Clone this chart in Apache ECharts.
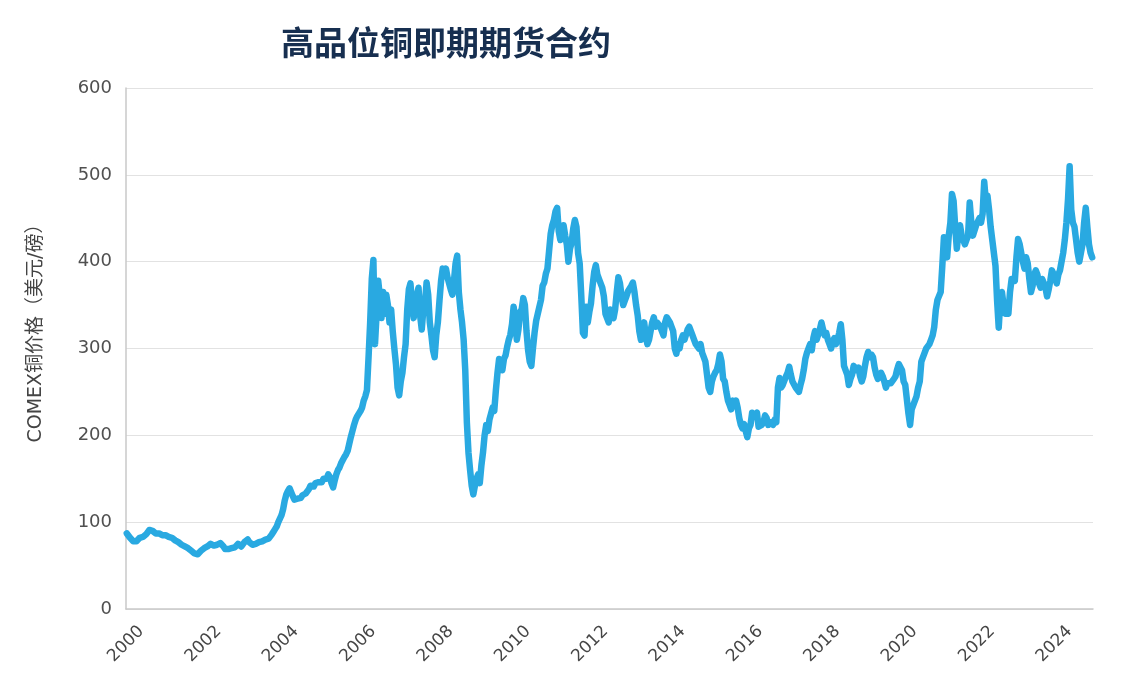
<!DOCTYPE html>
<html>
<head>
<meta charset="utf-8">
<script src="https://cdn.jsdelivr.net/npm/echarts@6/dist/echarts.min.js"></script>
<style>
html,body{margin:0;padding:0;background:#fff;}
#chart{width:1133px;height:699px;}
</style>
</head>
<body>
<div id="chart"></div>
<script>
// COMEX copper, US cents per pound, two readings per month
const p2000 = [87,85,82,80,78,79,78,80,82,81,83,84,86,88,91,93,90,88,87,86,87,86,85,86];
const p2001 = [85,84,83,82,82,80,79,78,77,76,74,73,72,71,70,68,67,66,64,62,63,65,67,68];
const p2002 = [70,72,72,74,75,74,73,75,74,76,76,75,72,69,68,69,68,70,70,71,73,75,73,72];
const p2003 = [74,77,78,80,77,75,74,73,75,76,77,77,78,79,80,80,81,82,86,89,92,95,100,104];
const p2004 = [108,115,125,132,136,139,137,130,126,128,127,125,128,131,130,133,135,138,142,140,141,145,143,146];
const p2005 = [148,146,150,152,150,155,152,145,140,148,155,160,163,168,170,175,178,182,190,198,205,212,218,222];
const p2006 = [222,228,232,240,245,252,290,330,380,402,305,340,378,360,335,365,340,362,350,330,345,320,300,282];
const p2007 = [255,246,262,272,290,305,345,368,375,350,335,358,362,370,338,322,345,352,376,362,330,315,298,290];
const p2008 = [315,330,355,378,392,385,392,382,380,368,362,378,398,407,365,345,330,310,275,215,180,160,142,132];
const p2009 = [142,150,155,145,165,180,200,212,205,218,225,232,228,252,272,288,285,275,288,292,302,310,316,328];
const p2010 = [348,335,310,322,342,345,358,350,320,298,285,280,300,318,332,340,348,356,372,376,386,392,412,432];
const p2011 = [442,448,458,462,435,425,428,442,430,420,400,415,422,438,448,440,410,398,360,318,315,348,330,342];
const p2012 = [352,372,388,396,385,380,375,370,360,340,335,330,345,340,335,345,365,382,375,360,350,355,360,366];
const p2013 = [365,372,376,365,350,338,320,310,325,330,315,305,310,320,330,336,325,330,330,325,320,315,330,336];
const p2014 = [335,330,325,320,300,294,305,300,310,315,310,316,322,325,320,315,310,305,305,300,305,295,290,285];
const p2015 = [270,255,250,262,268,272,275,282,293,285,265,262,250,240,235,230,240,235,240,232,220,212,208,213];
const p2016 = [205,198,208,212,226,222,220,226,210,208,212,215,223,220,212,210,215,212,218,215,255,266,255,258];
const p2017 = [260,268,272,279,270,262,260,255,255,250,258,265,275,288,295,300,305,298,312,320,310,316,322,330];
const p2018 = [322,315,318,310,305,300,308,312,305,310,318,328,310,280,280,270,258,265,270,280,280,275,278,268];
const p2019 = [262,268,280,290,296,290,293,290,278,270,265,268,272,268,262,255,260,258,260,262,265,268,276,282];
const p2020 = [284,275,262,258,260,225,212,230,232,240,245,255,262,285,290,295,300,298,305,310,315,325,345,356];
const p2021 = [358,365,395,428,410,405,430,445,478,470,440,415,432,442,430,425,420,425,430,468,445,430,430,442];
const p2022 = [440,450,445,455,492,470,476,460,440,425,410,395,355,324,355,365,350,340,345,340,365,380,380,378];
const p2023 = [405,426,420,410,400,392,405,398,380,365,372,385,390,385,375,370,380,375,370,360,368,378,390,386];
const p2024 = [382,375,385,390,400,410,425,445,472,510,460,445,440,425,410,400,410,420,445,462,440,420,410,405];

const firstYear = 2000;
const years = [p2000,p2001,p2002,p2003,p2004,p2005,p2006,p2007,p2008,p2009,p2010,p2011,p2012,
               p2013,p2014,p2015,p2016,p2017,p2018,p2019,p2020,p2021,p2022,p2023,p2024];
const yTicks = [0,100,200,300,400,500,600];

const seriesData = [];
years.forEach((arr, yi) => {
  arr.forEach((v, k) => {
    seriesData.push([firstYear + yi + (k + 0.5) / arr.length, v]);
  });
});

const chart = echarts.init(document.getElementById('chart'), null, {renderer: 'canvas'});
chart.setOption({
  animation: false,
  backgroundColor: '#ffffff',
  title: {
    text: '高品位铜即期期货合约',
    left: 276,
    top: 21,
    textStyle: {
      fontFamily: '"Noto Sans CJK SC", sans-serif',
      fontSize: 33,
      fontWeight: 'bold',
      color: '#172f50'
    }
  },
  grid: {left: 126, right: 40, top: 88, bottom: 90, containLabel: false},
  xAxis: {
    type: 'value',
    min: 2000,
    max: 2025,
    interval: 2,
    axisLine: {show: true, lineStyle: {color: '#c9c9c9', width: 1.5}},
    axisTick: {show: false},
    splitLine: {show: false},
    axisLabel: {
      rotate: 45,
      align: 'center',
      verticalAlign: 'middle',
      margin: 35,
      fontFamily: '"DejaVu Sans", sans-serif',
      fontSize: 17,
      color: '#454545',
      showMaxLabel: false,
      formatter: v => (v % 2 === 0 ? String(v) : '')
    }
  },
  yAxis: {
    type: 'value',
    min: yTicks[0],
    max: yTicks[yTicks.length - 1],
    interval: 100,
    name: 'COMEX铜价格（美元/磅）',
    nameLocation: 'middle',
    nameGap: 80,
    nameTextStyle: {
      fontFamily: '"DejaVu Sans", "Noto Sans CJK SC", sans-serif',
      fontSize: 19,
      color: '#444',
      padding: [0, 0, 0, 40]
    },
    axisLine: {show: true, lineStyle: {color: '#c9c9c9', width: 1.5}},
    axisTick: {show: false},
    splitLine: {show: true, lineStyle: {color: '#e2e2e2', width: 1.2}},
    axisLabel: {
      margin: 14,
      fontFamily: '"DejaVu Sans", sans-serif',
      fontSize: 18,
      color: '#505050'
    }
  },
  series: [{
    type: 'line',
    data: seriesData,
    showSymbol: false,
    symbol: 'none',
    lineStyle: {color: '#29a9e1', width: 6.5, join: 'round', cap: 'round'},
    itemStyle: {color: '#29a9e1'}
  }]
});
</script>
</body>
</html>
